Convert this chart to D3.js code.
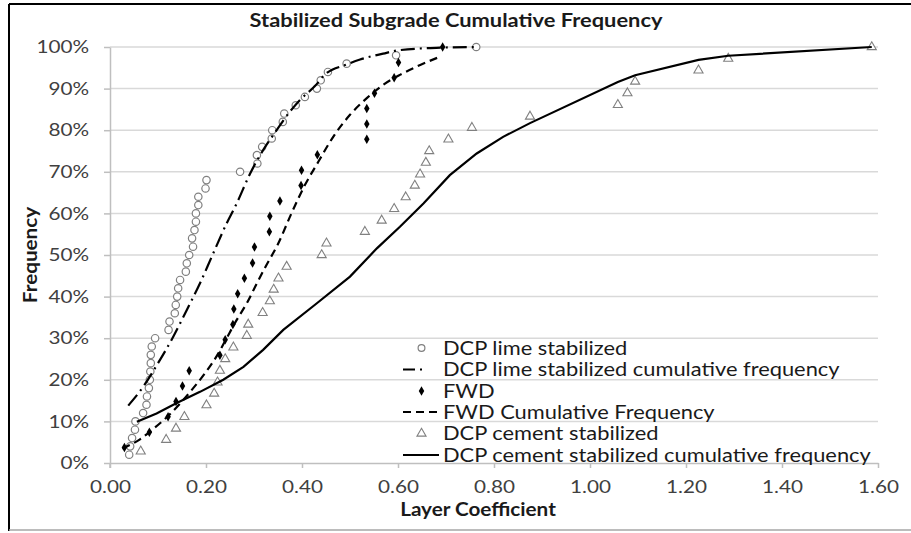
<!DOCTYPE html>
<html>
<head>
<meta charset="utf-8">
<script src="https://cdn.jsdelivr.net/npm/d3@7"></script>
<style>
  html, body { margin: 0; padding: 0; background: #fff; }
  svg { display: block; font-family: Lato, "Open Sans", sans-serif; }
</style>
</head>
<body>
<svg id="chart" width="911" height="533"></svg>
<script>
// ---------- DATA ----------
const chartTitle = "Stabilized Subgrade Cumulative Frequency";
const xAxisTitle = "Layer Coefficient";
const yAxisTitle = "Frequency";
const xTicks = [0, 0.2, 0.4, 0.6, 0.8, 1.0, 1.2, 1.4, 1.6];
const yTicks = [0, 0.1, 0.2, 0.3, 0.4, 0.5, 0.6, 0.7, 0.8, 0.9, 1.0];

// DCP lime stabilized (points)
const limeX = [0.040, 0.042, 0.046, 0.052, 0.053, 0.069, 0.076, 0.077, 0.081, 0.083,
               0.084, 0.085, 0.085, 0.087, 0.094, 0.122, 0.124, 0.135, 0.137, 0.140,
               0.142, 0.146, 0.158, 0.160, 0.165, 0.173, 0.171, 0.176, 0.179, 0.179,
               0.184, 0.184, 0.199, 0.201, 0.271, 0.307, 0.306, 0.317, 0.337, 0.338,
               0.360, 0.363, 0.387, 0.406, 0.431, 0.439, 0.454, 0.493, 0.596, 0.763];
const limeY = [0.02, 0.04, 0.06, 0.08, 0.10, 0.12, 0.14, 0.16, 0.18, 0.20,
               0.22, 0.24, 0.26, 0.28, 0.30, 0.32, 0.34, 0.36, 0.38, 0.40,
               0.42, 0.44, 0.46, 0.48, 0.50, 0.52, 0.54, 0.56, 0.58, 0.60,
               0.62, 0.64, 0.66, 0.68, 0.70, 0.72, 0.74, 0.76, 0.78, 0.80,
               0.82, 0.84, 0.86, 0.88, 0.90, 0.92, 0.94, 0.96, 0.98, 1.00];

// DCP lime stabilized cumulative frequency (curve)
const limeCfX = [0.038, 0.069, 0.100, 0.132, 0.160, 0.1875, 0.212, 0.243, 0.264, 0.292,
                 0.319, 0.344, 0.375, 0.396, 0.427, 0.448, 0.493, 0.521, 0.569, 0.600,
                 0.680, 0.763];
const limeCfY = [0.138, 0.183, 0.240, 0.304, 0.368, 0.432, 0.496, 0.576, 0.624, 0.696,
                 0.752, 0.795, 0.845, 0.873, 0.906, 0.934, 0.958, 0.970, 0.984, 0.992,
                 0.998, 1.000];

// FWD (points)
const fwdX = [0.030, 0.082, 0.121, 0.1375, 0.151, 0.165, 0.229, 0.240, 0.256, 0.258,
              0.266, 0.280, 0.297, 0.301, 0.332, 0.333, 0.354, 0.398, 0.399, 0.432,
              0.535, 0.535, 0.535, 0.551, 0.592, 0.601, 0.693];
const fwdY = [0.037, 0.074, 0.111, 0.148, 0.185, 0.222, 0.259, 0.296, 0.333, 0.370,
              0.407, 0.444, 0.481, 0.519, 0.556, 0.593, 0.630, 0.667, 0.704, 0.741,
              0.778, 0.815, 0.852, 0.889, 0.926, 0.963, 1.000];

// FWD cumulative frequency (curve)
const fwdCfX = [0.026, 0.0625, 0.087, 0.121, 0.146, 0.167, 0.198, 0.226, 0.243, 0.264,
                0.285, 0.306, 0.326, 0.349, 0.378, 0.406, 0.434, 0.465, 0.500, 0.535,
                0.569, 0.604, 0.639, 0.684];
const fwdCfY = [0.035, 0.057, 0.079, 0.113, 0.143, 0.171, 0.216, 0.264, 0.300, 0.344,
                0.384, 0.432, 0.476, 0.524, 0.600, 0.668, 0.724, 0.784, 0.837, 0.877,
                0.909, 0.933, 0.953, 0.975];

// DCP cement stabilized (points)
const cemX = [0.064, 0.117, 0.1375, 0.155, 0.201, 0.217, 0.224, 0.229, 0.240, 0.257,
              0.285, 0.288, 0.318, 0.333, 0.341, 0.351, 0.368, 0.441, 0.451, 0.531,
              0.566, 0.592, 0.616, 0.635, 0.646, 0.658, 0.665, 0.705, 0.754, 0.875,
              1.058, 1.078, 1.094, 1.226, 1.288, 1.587];
const cemY = [0.028, 0.056, 0.083, 0.111, 0.139, 0.167, 0.194, 0.222, 0.250, 0.278,
              0.306, 0.333, 0.361, 0.389, 0.417, 0.444, 0.472, 0.500, 0.528, 0.556,
              0.583, 0.611, 0.639, 0.667, 0.694, 0.722, 0.750, 0.778, 0.806, 0.833,
              0.861, 0.889, 0.917, 0.944, 0.972, 1.000];

// DCP cement stabilized cumulative frequency (curve)
const cemCfX = [0.056, 0.097, 0.139, 0.1875, 0.236, 0.278, 0.319, 0.361, 0.431, 0.500,
                0.556, 0.604, 0.653, 0.708, 0.764, 0.819, 0.875, 1.058, 1.094, 1.226,
                1.288, 1.587];
const cemCfY = [0.099, 0.119, 0.144, 0.171, 0.200, 0.231, 0.272, 0.320, 0.384, 0.448,
                0.516, 0.568, 0.624, 0.692, 0.744, 0.784, 0.817, 0.916, 0.932, 0.969,
                0.979, 1.000];

const legendLabels = ["DCP lime stabilized", "DCP lime stabilized cumulative frequency",
                      "FWD", "FWD Cumulative Frequency",
                      "DCP cement stabilized", "DCP cement stabilized cumulative frequency"];

// ---------- DRAW ----------
const svg = d3.select("#chart");
const W = 911, H = 533;
const SX = 1.15; // horizontal stretch of the lettering in the reference picture
const x = d3.scaleLinear().domain([0, 1.6]).range([110, 878]);
const y = d3.scaleLinear().domain([0, 1]).range([463, 47]);

const gridColor = "#d9d9d9";
const axisColor = "#bfbfbf";
const tickText = "#404040";
const markerGray = "#808080";

// chart frame (partial border like the reference)
svg.append("line").attr("x1", 9).attr("x2", 9).attr("y1", 4).attr("y2", 531)
  .attr("stroke", "#000").attr("stroke-width", 2);
svg.append("line").attr("x1", 9).attr("x2", W).attr("y1", 4).attr("y2", 4)
  .attr("stroke", "#000").attr("stroke-width", 2);
svg.append("line").attr("x1", 9).attr("x2", W).attr("y1", 530).attr("y2", 530)
  .attr("stroke", "#a6a6a6").attr("stroke-width", 1.5);

// title
svg.append("text").attr("transform", `translate(456,27) scale(${SX},1)`)
  .attr("text-anchor", "middle")
  .attr("font-weight", "bold").attr("font-size", 19).attr("fill", "#1a1a1a")
  .text(chartTitle);

// gridlines
svg.append("g").selectAll("line").data(yTicks.filter(d => d > 0)).join("line")
  .attr("x1", x(0)).attr("x2", x(1.6))
  .attr("y1", d => y(d)).attr("y2", d => y(d))
  .attr("stroke", gridColor).attr("stroke-width", 1.5);

// y axis
const yAxis = svg.append("g").attr("transform", `translate(${x(0)},0)`)
  .call(d3.axisLeft(y).tickValues(yTicks).tickFormat(d3.format(".0%"))
    .tickSize(6).tickSizeOuter(0).tickPadding(15));
yAxis.select(".domain").attr("stroke", axisColor).attr("stroke-width", 1.5);
yAxis.selectAll(".tick line").attr("stroke", axisColor).attr("stroke-width", 1.5);
yAxis.selectAll(".tick text").attr("font-size", 18).attr("fill", tickText)
  .attr("font-family", "Lato, sans-serif")
  .attr("x", -21 / SX).attr("transform", `scale(${SX},1)`);

// x axis
const xAxis = svg.append("g").attr("transform", `translate(0,${y(0)})`)
  .call(d3.axisBottom(x).tickValues(xTicks).tickFormat(d3.format(".2f"))
    .tickSize(5).tickSizeOuter(0).tickPadding(12));
xAxis.select(".domain").attr("stroke", axisColor).attr("stroke-width", 1.5);
xAxis.selectAll(".tick line").attr("stroke", axisColor).attr("stroke-width", 1.5);
xAxis.selectAll(".tick text").attr("font-size", 18).attr("fill", tickText)
  .attr("font-family", "Lato, sans-serif")
  .attr("transform", `scale(${SX},1)`);
// extend y-axis line down through the bottom tick
svg.append("line").attr("x1", x(0)).attr("x2", x(0)).attr("y1", y(0)).attr("y2", y(0) + 5)
  .attr("stroke", axisColor).attr("stroke-width", 1.5);

// axis titles
svg.append("text").attr("transform", `translate(37,255) rotate(-90) scale(${SX},1)`)
  .attr("text-anchor", "middle").attr("font-weight", "bold").attr("font-size", 18)
  .attr("fill", "#1a1a1a").text(yAxisTitle);
svg.append("text").attr("transform", `translate(478,516) scale(${SX},1)`)
  .attr("text-anchor", "middle")
  .attr("font-weight", "bold").attr("font-size", 18).attr("fill", "#1a1a1a")
  .text(xAxisTitle);

const zip = (a, b) => a.map((v, i) => [v, b[i]]);
const line = d3.line().x(d => x(d[0])).y(d => y(d[1]));
const smooth = d3.line().x(d => x(d[0])).y(d => y(d[1])).curve(d3.curveMonotoneX);

const plot = svg.append("g");
const triangle = d3.symbol().type(d3.symbolTriangle).size(36);
const diamond = d3.symbol().type(d3.symbolDiamond).size(26);

// series in Excel order
plot.append("g").selectAll("circle").data(zip(limeX, limeY)).join("circle")
  .attr("cx", d => x(d[0])).attr("cy", d => y(d[1])).attr("r", 3.7)
  .attr("fill", "#fff").attr("stroke", markerGray).attr("stroke-width", 1.2);

plot.append("path").datum(zip(limeCfX, limeCfY)).attr("d", smooth)
  .attr("fill", "none").attr("stroke", "#000").attr("stroke-width", 2.2)
  .attr("stroke-dasharray", "14,5,2,5");

plot.append("g").selectAll("path").data(zip(fwdX, fwdY)).join("path")
  .attr("transform", d => `translate(${x(d[0])},${y(d[1])})`).attr("d", diamond)
  .attr("fill", "#000");

plot.append("path").datum(zip(fwdCfX, fwdCfY)).attr("d", smooth)
  .attr("fill", "none").attr("stroke", "#000").attr("stroke-width", 2.2)
  .attr("stroke-dasharray", "8,5");

plot.append("g").selectAll("path").data(zip(cemX, cemY)).join("path")
  .attr("transform", d => `translate(${x(d[0])},${y(d[1])})`).attr("d", triangle)
  .attr("fill", "#fff").attr("stroke", markerGray).attr("stroke-width", 1.1);

plot.append("path").datum(zip(cemCfX, cemCfY)).attr("d", line)
  .attr("fill", "none").attr("stroke", "#000").attr("stroke-width", 2.2);

// legend
const legY = [348, 369.5, 391, 412, 433.5, 455];
const lg = svg.append("g");
const lx0 = 403, lx1 = 439, lmx = 421.5, ltx = 443;
legendLabels.forEach((lab, i) => {
  const cy = legY[i];
  if (i === 0) lg.append("circle").attr("cx", lmx).attr("cy", cy).attr("r", 3.4)
      .attr("fill", "#fff").attr("stroke", markerGray).attr("stroke-width", 1.2);
  if (i === 1) lg.append("line").attr("x1", lx0).attr("x2", lx1).attr("y1", cy).attr("y2", cy)
      .attr("stroke", "#000").attr("stroke-width", 2.2).attr("stroke-dasharray", "12,5,2,20");
  if (i === 2) lg.append("path").attr("transform", `translate(${lmx},${cy})`).attr("d", diamond)
      .attr("fill", "#000");
  if (i === 3) lg.append("line").attr("x1", lx0).attr("x2", lx1).attr("y1", cy).attr("y2", cy)
      .attr("stroke", "#000").attr("stroke-width", 2.2).attr("stroke-dasharray", "8,5");
  if (i === 4) lg.append("path").attr("transform", `translate(${lmx},${cy})`).attr("d", triangle)
      .attr("fill", "#fff").attr("stroke", markerGray).attr("stroke-width", 1.1);
  if (i === 5) lg.append("line").attr("x1", lx0).attr("x2", lx1).attr("y1", cy).attr("y2", cy)
      .attr("stroke", "#000").attr("stroke-width", 2.2);
  lg.append("text").attr("transform", `translate(${ltx},${cy}) scale(${SX},1)`)
    .attr("dy", "0.35em")
    .attr("font-size", 19).attr("fill", "#1a1a1a").text(lab);
});
</script>
</body>
</html>
